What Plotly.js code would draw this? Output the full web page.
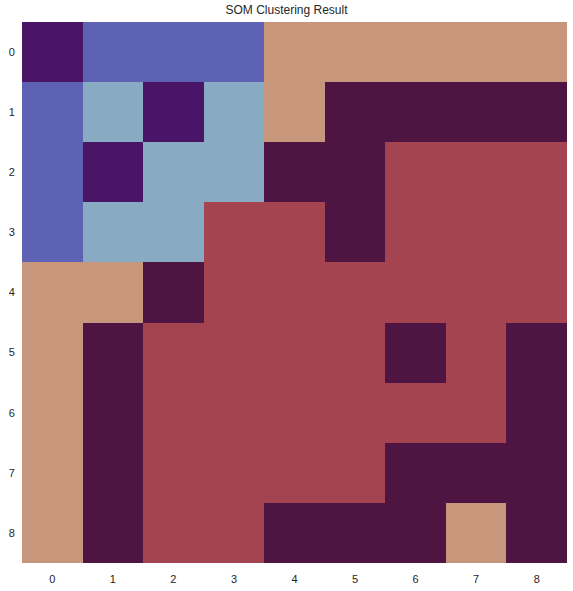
<!DOCTYPE html>
<html>
<head>
<meta charset="utf-8">
<script src="https://cdn.plot.ly/plotly-3.0.1.min.js"></script>
<style>html,body{margin:0;padding:0;background:#fff;}</style>
</head>
<body>
<div id="chart" style="width:573px;height:591px;"></div>
<script>
// cluster index per SOM node (row = y, column = x)
const xLabels = ["0","1","2","3","4","5","6","7","8"];
const yLabels = ["0","1","2","3","4","5","6","7","8"];
const clusterGrid = [
  [2,1,1,1,5,5,5,5,5],
  [1,0,2,0,5,3,3,3,3],
  [1,2,0,0,3,3,4,4,4],
  [1,0,0,4,4,3,4,4,4],
  [5,5,3,4,4,4,4,4,4],
  [5,3,4,4,4,4,3,4,3],
  [5,3,4,4,4,4,4,4,3],
  [5,3,4,4,4,4,3,3,3],
  [5,3,4,4,3,3,3,5,3]
];
const clusterColors = ["#89aac3","#5e62b4","#4a1566","#4f1542","#a34450","#c8977b"];

const n = clusterColors.length;
const colorscale = [];
clusterColors.forEach((c,i)=>{
  colorscale.push([i/n, c]);
  colorscale.push([(i+1)/n, c]);
});

const trace = {
  type: "heatmap",
  z: clusterGrid,
  x: xLabels,
  y: yLabels,
  zmin: -0.5,
  zmax: n - 0.5,
  colorscale: colorscale,
  showscale: false,
  xgap: 0, ygap: 0
};

const layout = {
  width: 573, height: 591,
  margin: {l: 22, r: 6, t: 22, b: 28},
  paper_bgcolor: "#ffffff",
  plot_bgcolor: "#ffffff",
  font: {family: "Liberation Sans, Arial, sans-serif", size: 11, color: "#262626"},
  title: {text: "SOM Clustering Result", font: {size: 12, color: "#262626"}, x: 0.5, xanchor: "center", y: 1 - 10/591, yanchor: "middle"},
  xaxis: {type: "category", showgrid: false, zeroline: false, showline: false, ticks: "outside", ticklen: 6, tickcolor: "rgba(0,0,0,0)"},
  yaxis: {type: "category", autorange: "reversed", showgrid: false, zeroline: false, showline: false, ticks: "outside", ticklen: 4, tickcolor: "rgba(0,0,0,0)"}
};

Plotly.newPlot("chart", [trace], layout, {displayModeBar: false, staticPlot: true});
</script>
</body>
</html>
